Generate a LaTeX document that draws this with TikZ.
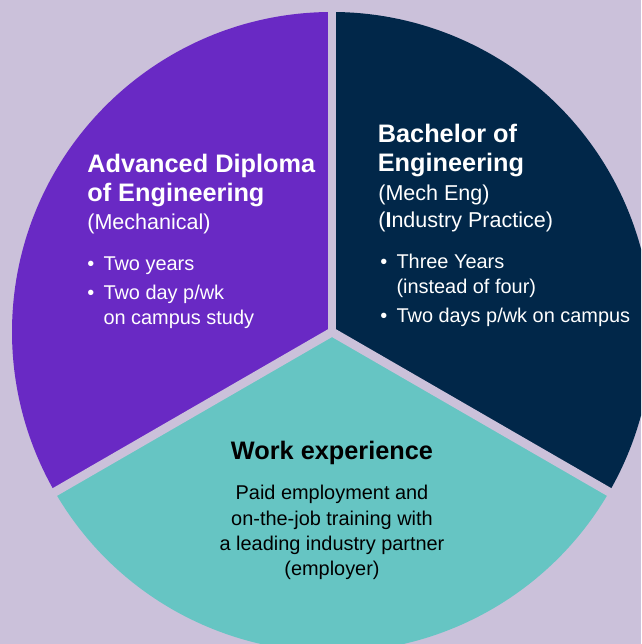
\documentclass[tikz,border=0pt]{standalone}
\usepackage{fontspec}
\setmainfont{Liberation Sans}
\usepackage{xcolor}
\definecolor{backdrop}{HTML}{CBC1DA}
\definecolor{diplomapurple}{HTML}{6929C4}
\definecolor{bachelornavy}{HTML}{012749}
\definecolor{workteal}{HTML}{66C5C3}
\newcommand{\itembullet}{\makebox[9.2pt][l]{\textbullet}}
\tikzstyle{divider} = [line width=5, 
draw=backdrop]
\tikzstyle{heading} = [anchor=base west, 
inner sep=0pt, 
align=left, 
text=white, 
font=\fontsize{14.4}{17}\selectfont\bfseries]
\tikzstyle{subheading} = [anchor=base west, 
inner sep=0pt, 
align=left, 
text=white, 
font=\fontsize{12.25}{15.9}\selectfont]
\tikzstyle{bullets} = [anchor=base west, 
inner sep=0pt, 
align=left, 
text=white, 
font=\fontsize{11.34}{14.5}\selectfont]
\tikzstyle{bodytext} = [anchor=base, 
inner sep=0pt, 
align=center, 
text=black, 
font=\fontsize{11.34}{14.5}\selectfont]

\begin{document}
\begin{tikzpicture}[x=0.02cm, y=0.02cm]
  \clip (0,0) rectangle (641,644);
  \fill[backdrop] (0,0) rectangle (641,644);
  \coordinate (centre) at (332,312);

  % the three parts of the pie
  \fill[diplomapurple] (centre) -- ++(90:320) arc[start angle=90, end angle=210, radius=320] -- cycle;
  \fill[bachelornavy] (centre) -- ++(-30:320) arc[start angle=-30, end angle=90, radius=320] -- cycle;
  \fill[workteal] (centre) -- ++(210:320) arc[start angle=210, end angle=330, radius=320] -- cycle;
  \draw[divider] (centre) -- ++(90:330);
  \draw[divider] (centre) -- ++(210:330);
  \draw[divider] (centre) -- ++(-30:330);

  % texts, placed at the baseline of their last line
  \node (diploma) [heading] at (87,442) {Advanced Diploma\\of Engineering};
  \node (diplomasub) [subheading] at (87,414) {(Mechanical)};
  \node (diplomalist) [bullets] at (87,319) {\itembullet Two years\\[2pt]
    \itembullet Two day p/wk\\ \hspace*{9.2pt}on campus study};

  \node (bachelor) [heading] at (377.5,472) {Bachelor of\\Engineering};
  \node (bachelorsub) [subheading] at (378,416) {(Mech Eng)\\(\textbf{I}ndustry Practice)};
  \node (bachelorlist) [bullets] at (380,321) {\itembullet Three Years\\ \hspace*{9.2pt}(instead of four)\\[2pt]
    \itembullet Two days p/wk on campus};

  \node (work) [bodytext, font=\fontsize{14.4}{17}\selectfont\bfseries] at (332,184) {Work experience};
  \node (worktext) [bodytext] at (332,68) {Paid employment and\\on-the-job training with\\a leading industry partner\\(employer)};
\end{tikzpicture}
\end{document}
